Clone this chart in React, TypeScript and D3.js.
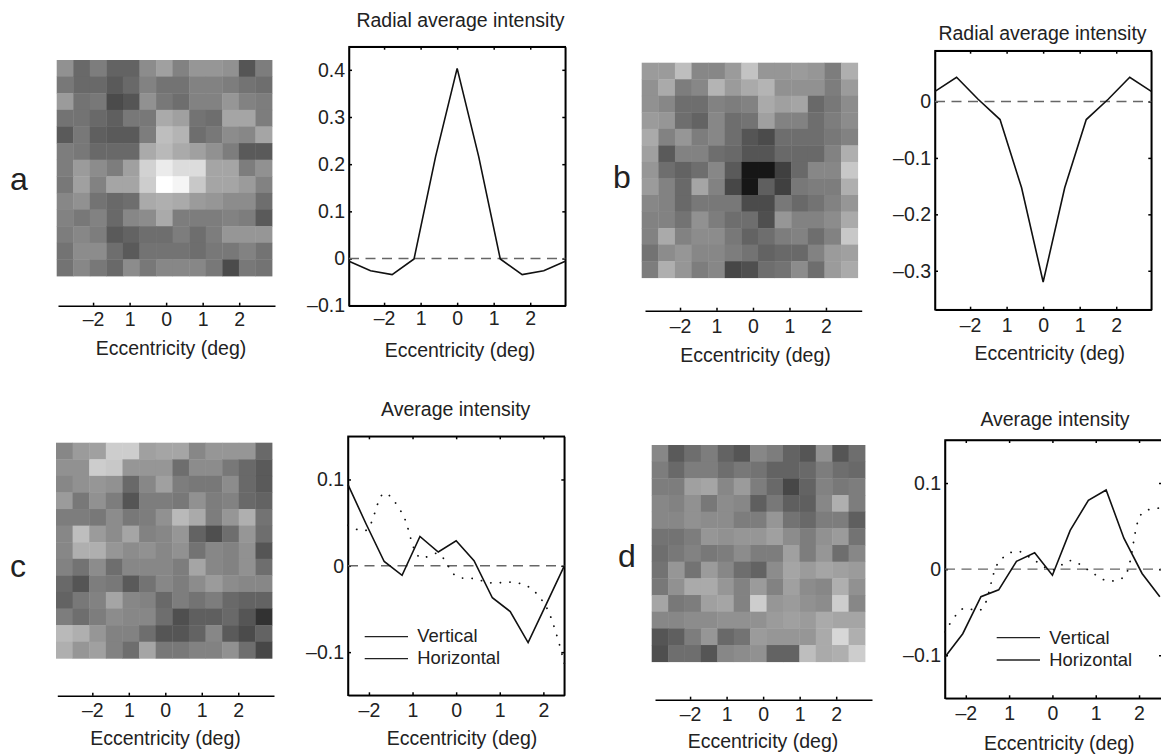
import React, { useEffect, useRef } from 'react';
import * as d3 from 'd3';

// grey levels, rows top to bottom
const imageA = [
  [145,105,125,100,100,140,160,130,150,150,145,85,125],
  [120,105,105,90,105,130,115,115,130,130,125,115,110],
  [155,115,120,75,85,145,120,110,130,130,150,130,125],
  [115,115,105,95,120,120,170,160,115,110,165,165,125],
  [90,120,95,90,90,125,190,180,110,120,140,135,165],
  [125,120,105,105,105,170,185,170,160,145,125,90,90],
  [125,155,140,125,160,210,235,220,220,165,165,125,145],
  [120,160,130,165,165,205,255,245,200,165,165,155,130],
  [135,145,115,105,110,170,175,170,155,150,140,140,110],
  [130,120,130,105,135,140,170,125,125,125,130,125,90],
  [125,135,125,90,100,110,110,125,110,125,150,150,150],
  [115,140,140,110,90,115,115,115,110,120,120,130,115],
  [115,135,120,105,140,120,135,135,135,120,75,120,115],
];
const imageB = [
  [155,155,190,135,135,155,195,150,150,155,150,125,175],
  [145,170,125,135,180,155,170,180,145,145,145,125,155],
  [145,135,110,110,130,125,130,170,160,165,105,120,140],
  [155,150,110,100,135,110,115,160,130,130,110,125,140],
  [170,130,150,125,135,110,85,75,110,110,110,120,130],
  [160,90,130,130,110,105,85,85,105,105,105,130,175],
  [150,110,100,110,135,90,20,20,65,105,135,135,200],
  [155,130,105,165,130,70,20,95,65,120,125,125,175],
  [135,130,105,120,120,120,75,75,120,105,115,130,150],
  [130,130,115,145,125,110,110,80,150,130,130,140,170],
  [130,170,130,140,140,120,100,110,125,130,110,130,200],
  [115,140,150,135,135,125,115,100,105,105,130,155,160],
  [125,175,150,125,135,70,80,110,115,140,110,155,170],
];
const imageC = [
  [135,155,160,205,205,160,165,165,135,150,150,150,105],
  [145,145,205,200,150,150,150,110,140,140,120,105,90],
  [135,145,150,145,105,135,160,125,120,120,140,105,90],
  [155,120,145,125,85,125,125,120,145,125,130,105,100],
  [125,125,120,140,120,125,145,185,170,125,150,175,115],
  [135,190,155,140,165,130,135,150,100,80,110,150,110],
  [135,175,175,150,140,145,135,145,115,135,130,145,85],
  [130,115,140,110,135,135,135,125,165,135,130,145,110],
  [105,85,125,120,90,115,135,125,140,155,140,135,135],
  [100,120,130,165,135,130,105,125,115,125,105,100,100],
  [125,110,125,140,135,135,110,80,95,95,105,85,50],
  [185,175,150,130,130,110,85,85,100,135,90,75,100],
  [175,150,160,130,110,165,120,120,130,130,145,110,70],
];
const imageD = [
  [135,90,110,125,100,85,135,125,100,85,145,85,110],
  [125,105,125,125,110,120,115,100,100,105,125,110,105],
  [125,125,160,165,135,155,125,105,70,100,130,120,125],
  [135,130,145,120,140,135,95,120,95,95,135,175,125],
  [135,135,145,140,140,125,125,150,115,105,125,125,95],
  [115,115,125,150,145,150,150,160,140,125,145,155,115],
  [110,120,130,120,125,140,125,125,160,125,150,110,135],
  [115,150,115,155,135,110,100,140,165,155,165,160,155],
  [120,145,170,170,150,130,155,130,160,140,135,175,145],
  [165,120,125,160,165,130,205,150,155,145,140,205,135],
  [135,135,140,140,145,145,145,155,160,155,170,165,165],
  [85,95,125,150,105,115,155,150,150,150,170,215,175],
  [80,110,110,85,135,140,145,100,100,190,170,175,205],
];

const radialEcc = [-2.96,-2.37,-1.78,-1.18,-0.59,0,0.59,1.18,1.78,2.37,2.96];
const radialA = [-0.006,-0.026,-0.034,-0.001,0.216,0.403,0.216,-0.001,-0.034,-0.026,-0.006];
const radialB = [0.018,0.043,0.004,-0.032,-0.153,-0.32,-0.153,-0.032,0.004,0.043,0.018];

const avgEcc = [-2.48,-2.07,-1.65,-1.24,-0.83,-0.41,0,0.41,0.83,1.24,1.65,2.07,2.48];
const verticalC = [0.094,0.049,0.005,-0.011,0.034,0.016,0.029,0.006,-0.037,-0.053,-0.089,-0.044,0];
const horizontalC = [0.047,0.041,0.084,0.061,0.0097,0.014,-0.012,-0.015,-0.02,-0.019,-0.024,-0.048,-0.113];
const verticalD = [-0.102,-0.075,-0.032,-0.024,0.009,0.019,-0.007,0.045,0.08,0.092,0.036,-0.005,-0.032];
const horizontalD = [-0.073,-0.046,-0.047,0.008,0.021,0.01,-0.001,0.01,-0.001,-0.013,-0.009,0.065,0.071];

const eccTicks = [-2,-1,0,1,2];
const eccLabels = ['–2','1','0','1','2'];
const legendLabels = ['Vertical','Horizontal'];
const xTitle = 'Eccentricity (deg)';

const FONT = '"Liberation Sans", Arial, sans-serif';
const TEXT = '#222';
const FS = 19.5;

const grey = d3.scaleLinear<string>().domain([0,255]).range(['#000','#fff']);

function eccAxis(g, x, y, labelY) {
  g.append('g')
    .attr('transform', `translate(0,${y})`)
    .call(d3.axisBottom(x).tickValues(eccTicks).tickSize(-3).tickSizeOuter(0)
      .tickFormat((d, i) => eccLabels[i]))
    .call(s => {
      s.selectAll('path,line').attr('stroke', '#000').attr('stroke-width', 1.5);
      s.selectAll('text').attr('y', labelY - y).attr('dy', 0)
        .attr('font-family', FONT).attr('font-size', FS).attr('fill', TEXT);
    });
}

function label(g, text, x, y, size = FS, anchor = 'middle') {
  g.append('text').attr('x', x).attr('y', y).attr('text-anchor', anchor)
    .attr('font-family', FONT).attr('font-size', size).attr('fill', TEXT).text(text);
}

function drawImage(svg, p) {
  const cols = d3.range(13);
  const bx = d3.scaleBand<number>().domain(cols).range([p.left, p.right]);
  const by = d3.scaleBand<number>().domain(cols).range([p.top, p.bottom]);
  const g = svg.append('g');
  const cells = g.append('g').attr('filter', 'url(#soft)');

  p.cells.forEach((row, r) => {
    cells.selectAll(null).data(row).enter().append('rect')
      .attr('x', (d, c) => bx(c))
      .attr('y', by(r))
      .attr('width', bx.bandwidth() + 0.4)
      .attr('height', by.bandwidth() + 0.4)
      .attr('fill', d => grey(d));
  });

  const x = d3.scaleLinear().domain(p.axisDomain).range(p.axisRange);
  eccAxis(g, x, p.axisY, p.tickY);
  label(g, xTitle, p.titleX, p.titleY);
  label(g, p.letter, p.letterX, p.letterY, 32, 'start');
}

function drawPlot(svg, p) {
  const x = d3.scaleLinear().domain(p.xDomain).range([p.left, p.right]);
  const y = d3.scaleLinear().domain(p.yDomain).range([p.bottom, p.top]);
  const g = svg.append('g');

  g.append('rect').attr('x', p.left).attr('y', p.top)
    .attr('width', p.right - p.left).attr('height', p.bottom - p.top)
    .attr('fill', 'none').attr('stroke', '#000').attr('stroke-width', 1.5);

  eccAxis(g, x, p.bottom, p.tickY);
  g.append('g').attr('transform', `translate(0,${p.top})`)
    .call(d3.axisTop(x).tickValues(eccTicks).tickSize(-3).tickSizeOuter(0).tickFormat(() => ''))
    .call(s => s.selectAll('path,line').attr('stroke', '#000').attr('stroke-width', 1.5));

  g.append('g').attr('transform', `translate(${p.left},0)`)
    .call(d3.axisLeft(y).tickValues(p.yTicks).tickSize(-3).tickSizeOuter(0).tickPadding(4)
      .tickFormat(d => (d < 0 ? '–' : '') + Math.abs(+d)))
    .call(s => {
      s.selectAll('path,line').attr('stroke', '#000').attr('stroke-width', 1.5);
      s.selectAll('text').attr('font-family', FONT).attr('font-size', FS).attr('fill', TEXT);
    });
  g.append('g').attr('transform', `translate(${p.right},0)`)
    .call(d3.axisRight(y).tickValues(p.yTicks).tickSize(-3).tickSizeOuter(0).tickFormat(() => ''))
    .call(s => s.selectAll('path,line').attr('stroke', '#000').attr('stroke-width', 1.5));

  // zero line
  g.append('line').attr('x1', p.left).attr('x2', p.right).attr('y1', y(0)).attr('y2', y(0))
    .attr('stroke', '#666').attr('stroke-width', 1.4).attr('stroke-dasharray', '10 6.5');

  const line = d3.line<number>().x((d, i) => x(p.ecc[i])).y(d => y(d));

  if (p.dotted) {
    g.append('path').datum(p.dotted)
      .attr('d', line.curve(d3.curveCatmullRom.alpha(0.5)))
      .attr('fill', 'none').attr('stroke', '#111').attr('stroke-width', 1.8)
      .attr('stroke-linecap', 'round').attr('stroke-dasharray', '0.1 9.5');
  }
  g.append('path').datum(p.solid)
    .attr('d', line.curve(d3.curveLinear))
    .attr('fill', 'none').attr('stroke', '#111').attr('stroke-width', 1.6);

  if (p.legend) {
    legendLabels.forEach((t, i) => {
      g.append('line').attr('x1', p.legend.x0).attr('x2', p.legend.x1)
        .attr('y1', p.legend.lineY[i]).attr('y2', p.legend.lineY[i])
        .attr('stroke', '#222').attr('stroke-width', 1.3);
      label(g, t, p.legend.textX, p.legend.textY[i], 18.4, 'start');
    });
  }

  label(g, p.title, p.titleX, p.titleY);
  label(g, xTitle, p.xTitleX, p.xTitleY);
}

export default function App() {
  const ref = useRef<SVGSVGElement>(null);

  useEffect(() => {
    const svg = d3.select(ref.current);
    svg.selectAll('*').remove();

    // the printed images are slightly soft
    svg.append('defs').append('filter').attr('id', 'soft')
      .attr('x', '-3%').attr('y', '-3%').attr('width', '106%').attr('height', '106%')
      .append('feGaussianBlur').attr('stdDeviation', 0.7);

    drawImage(svg, { cells: imageA, left: 56.7, right: 272, top: 60, bottom: 276,
      axisDomain: [-2.96, 2.98], axisRange: [58, 275], axisY: 305.7, tickY: 326,
      titleX: 171, titleY: 355, letter: 'a', letterX: 10, letterY: 190 });
    drawImage(svg, { cells: imageB, left: 641.7, right: 857.7, top: 62.7, bottom: 277.7,
      axisDomain: [-2.96, 2.98], axisRange: [645, 861.7], axisY: 310.7, tickY: 332.7,
      titleX: 755.5, titleY: 361.7, letter: 'b', letterX: 613, letterY: 188 });
    drawImage(svg, { cells: imageC, left: 56, right: 272, top: 442.7, bottom: 658.3,
      axisDomain: [-2.96, 2.98], axisRange: [57.3, 274], axisY: 695.7, tickY: 716.7,
      titleX: 165.5, titleY: 745, letter: 'c', letterX: 10, letterY: 577 });
    drawImage(svg, { cells: imageD, left: 651.7, right: 865, top: 445, bottom: 661.7,
      axisDomain: [-2.96, 2.98], axisRange: [655, 872], axisY: 699.7, tickY: 721,
      titleX: 763, titleY: 748, letter: 'd', letterX: 618, letterY: 567 });

    drawPlot(svg, { left: 349, right: 565.3, top: 46.7, bottom: 305.7,
      xDomain: [-2.96, 2.96], yDomain: [-0.1, 0.449], yTicks: [-0.1, 0, 0.1, 0.2, 0.3, 0.4],
      ecc: radialEcc, solid: radialA, tickY: 325,
      title: 'Radial average intensity', titleX: 460.5, titleY: 26.7, xTitleX: 460, xTitleY: 356.7 });
    drawPlot(svg, { left: 935, right: 1151.3, top: 50.7, bottom: 309.7,
      xDomain: [-2.96, 2.96], yDomain: [-0.369, 0.09], yTicks: [-0.3, -0.2, -0.1, 0],
      ecc: radialEcc, solid: radialB, tickY: 331.7,
      title: 'Radial average intensity', titleX: 1042.5, titleY: 40, xTitleX: 1049.7, xTitleY: 360 });
    drawPlot(svg, { left: 348, right: 564.3, top: 436.3, bottom: 695.3,
      xDomain: [-2.48, 2.48], yDomain: [-0.15, 0.15], yTicks: [-0.1, 0, 0.1],
      ecc: avgEcc, solid: verticalC, dotted: horizontalC, tickY: 716.7,
      legend: { x0: 364.7, x1: 408, lineY: [636.7, 658.7], textX: 417.3, textY: [642, 664] },
      title: 'Average intensity', titleX: 455.7, titleY: 416, xTitleX: 462, xTitleY: 745 });
    drawPlot(svg, { left: 945, right: 1162, top: 440, bottom: 698.3,
      xDomain: [-2.48, 2.53], yDomain: [-0.15, 0.15], yTicks: [-0.1, 0, 0.1],
      ecc: avgEcc, solid: verticalD, dotted: horizontalD, tickY: 720,
      legend: { x0: 996.7, x1: 1040, lineY: [637.7, 660], textX: 1049.3, textY: [644.3, 665.7] },
      title: 'Average intensity', titleX: 1055, titleY: 426, xTitleX: 1059.3, xTitleY: 750 });
  }, []);

  return (
    <svg ref={ref} width={1161} height={756}
      style={{ position: 'absolute', left: 0, top: 0, background: '#fff' }} />
  );
}
